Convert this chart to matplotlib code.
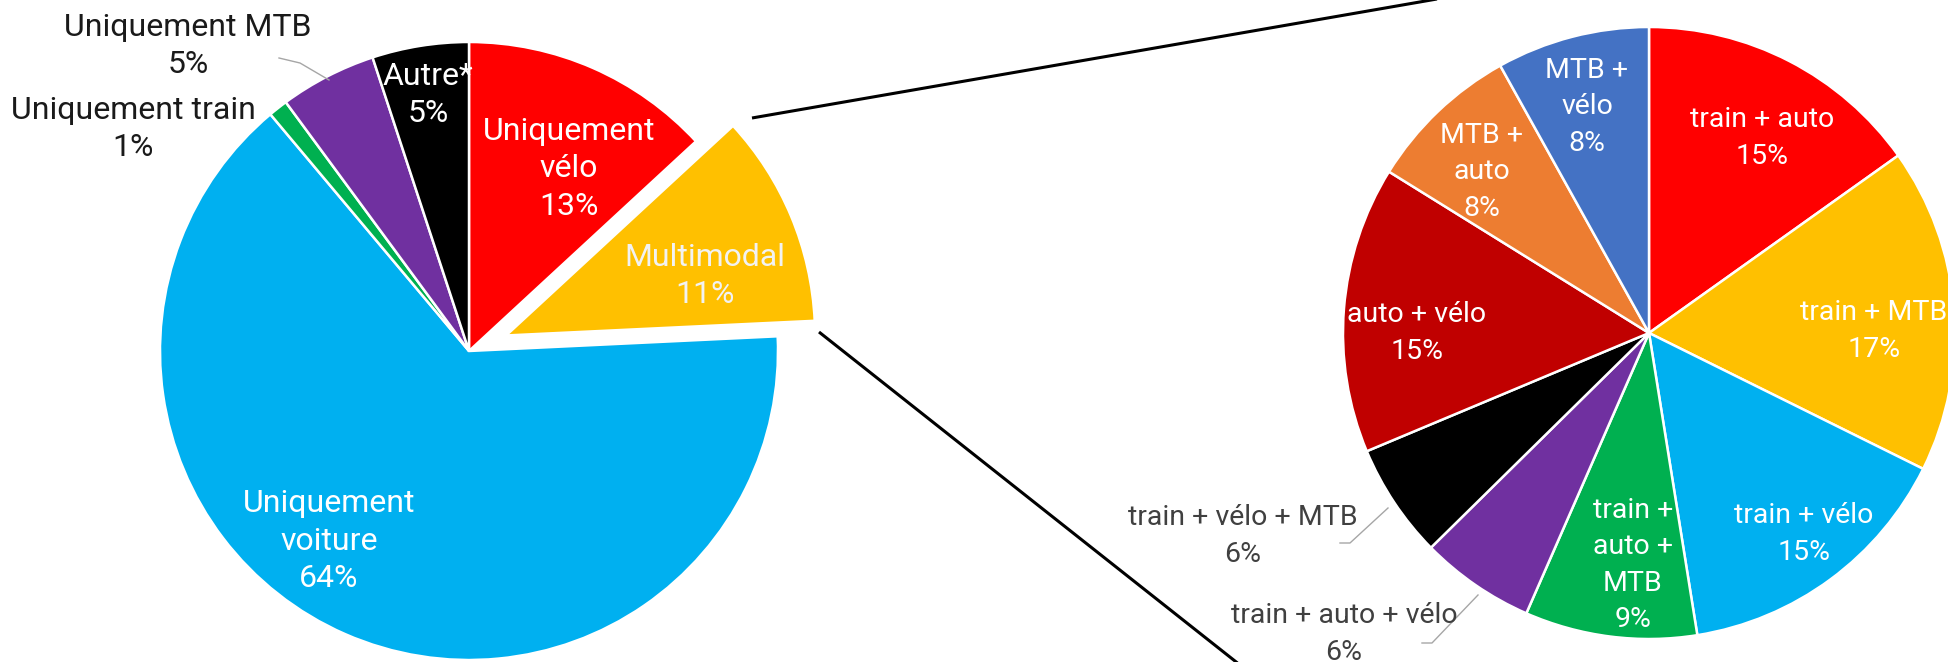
import matplotlib
matplotlib.use("Agg")
import matplotlib.pyplot as plt

plt.rcParams['font.family'] = ['Roboto', 'DejaVu Sans']

# left pie: overall split
main_labels = ["Uniquement\nvélo", "Multimodal", "Uniquement\nvoiture",
               "Uniquement train", "Uniquement MTB", "Autre*"]
main_values = [13, 11, 64, 1, 5, 5]
main_colors = ["#FF0000", "#FFC000", "#00B0F0", "#00B050", "#7030A0", "#000000"]

# right pie: detail of multimodal
multi_labels = ["train + auto", "train + MTB", "train + vélo", "train +\nauto +\nMTB",
                "train + auto + vélo", "train + vélo + MTB", "auto + vélo",
                "MTB +\nauto", "MTB +\nvélo"]
multi_values = [15, 17, 15, 9, 6, 6, 15, 8, 8]
multi_colors = ["#FF0000", "#FFC000", "#00B0F0", "#00B050", "#7030A0",
                "#000000", "#C00000", "#ED7D31", "#4472C4"]

W, H = 1949, 662
fig = plt.figure(figsize=(W / 100, H / 100), dpi=100)
ax = fig.add_axes([0, 0, 1, 1])

FS_L = 23
FS_R = 20.5


def img(x, y):
    # picture coords (y down) -> axes coords (y up)
    return x, H - y


# left pie
c1 = img(469, 351)
r1 = 309
explode = [0, 0.13, 0, 0, 0, 0]
ax.pie(main_values, colors=main_colors, startangle=90, counterclock=False,
       center=c1, radius=r1, explode=[e * r1 for e in explode],
       wedgeprops=dict(edgecolor="white", linewidth=1.8))

# label anchor spots (picture px) and colours
pos_main = {0: (569, 169), 1: (705, 276), 2: (329, 541), 5: (428, 95),
            4: (188, 46), 3: (133, 129)}
col_main = {0: "white", 1: "#F2F2F2", 2: "white", 5: "white",
            4: "#1A1A1A", 3: "#1A1A1A"}
for i, p in pos_main.items():
    ax.text(*img(*p), f"{main_labels[i]}\n{main_values[i]}%", ha="center", va="center",
            color=col_main[i], fontsize=FS_L, linespacing=1.35)
ax.plot(*zip(img(279, 58), img(300, 63), img(329, 80)), color="#A6A6A6", lw=1)

# right pie
c2 = img(1649, 333)
r2 = 306
ax.pie(multi_values, colors=multi_colors, startangle=90, counterclock=False,
       center=c2, radius=r2,
       wedgeprops=dict(edgecolor="white", linewidth=1.8))

pos_multi = {0: (1762, 138), 1: (1874, 331), 2: (1804, 534), 3: (1633, 565),
             6: (1417, 333), 7: (1482, 172), 8: (1587, 107),
             5: (1243, 536), 4: (1344, 634)}
for i, p in pos_multi.items():
    col = "#404040" if i in (4, 5) else "white"
    ax.text(*img(*p), f"{multi_labels[i]}\n{multi_values[i]}%", ha="center", va="center",
            color=col, fontsize=FS_R, linespacing=1.45)
ax.plot(*zip(img(1340, 543), img(1350, 543), img(1388, 508)), color="#A6A6A6", lw=1)
ax.plot(*zip(img(1422, 643), img(1432, 643), img(1478, 595)), color="#A6A6A6", lw=1)

# zoom connector lines
ax.plot(*zip(img(752, 118), img(1460, -5)), color="black", lw=2.2, solid_capstyle="butt")
ax.plot(*zip(img(819, 332), img(1240, 665)), color="black", lw=2.2, solid_capstyle="butt")

ax.set_xlim(0, W)
ax.set_ylim(0, H)
ax.set_aspect("equal")
ax.axis("off")

fig.savefig("out.png", dpi=100, facecolor="white")
